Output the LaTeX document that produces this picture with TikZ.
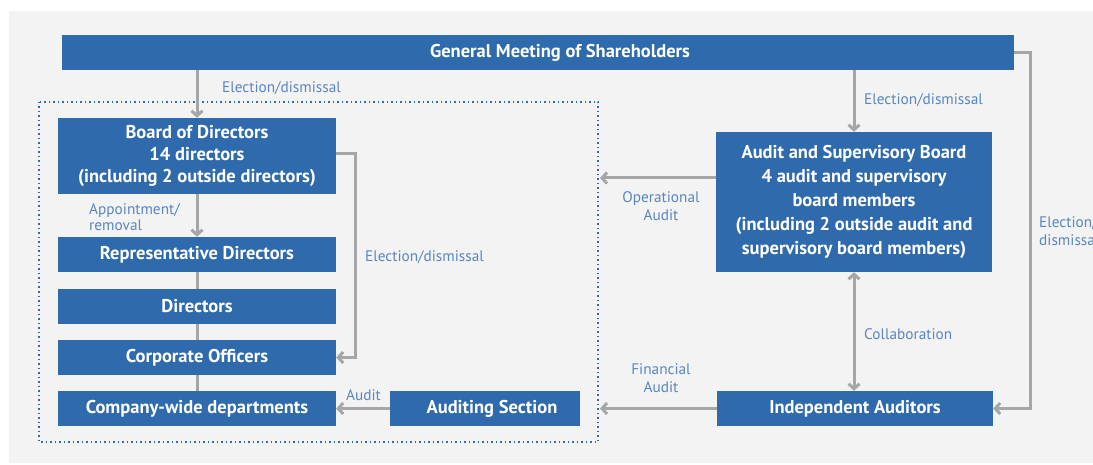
\documentclass[tikz,border=0pt]{standalone}
\usepackage{fontspec}
\setmainfont{PT Sans}
\newfontfamily\diafont{PT Sans}
\usetikzlibrary{arrows.meta,calc}
\definecolor{boxblue}{HTML}{2E6AAC}
\definecolor{lblblue}{HTML}{5A86C0}
\definecolor{arrgray}{HTML}{A6A6A6}
\definecolor{panel}{HTML}{F3F3F3}
\tikzset{
  orgbox/.style={fill=boxblue, text=white, inner sep=0pt, align=center,
    font=\diafont\bfseries\fontsize{18.5}{22}\selectfont},
  lbl/.style={text=lblblue, inner sep=0pt, font=\diafont\fontsize{15.3}{18}\selectfont},
  conn/.style={draw=arrgray, line width=3pt},
  arr/.style={conn, -{Straight Barb[length=5pt,width=11pt]}},
  darr/.style={conn, {Straight Barb[length=5pt,width=11pt]}-{Straight Barb[length=5pt,width=11pt]}},
  grp/.style={draw=boxblue, line width=1.5pt, dash pattern=on 1.5pt off 3pt}
}
\begin{document}
\begin{tikzpicture}[x=1pt,y=-1pt]
\clip (0,0) rectangle (1093,465);
\useasboundingbox (0,0) rectangle (1093,465);
\fill[white] (0,0) rectangle (1093,465);
\fill[panel] (9,11) rectangle (1093,463);
% group frame
\draw[grp] (39,102) rectangle (598,442);
% boxes
\node[orgbox, minimum width=952pt, minimum height=35pt] (gm) at (538,52.5) {};
\node[text=white, inner sep=0pt, font=\diafont\bfseries\fontsize{18.5}{22}\selectfont] (gmt) at (560,53) {General Meeting of Shareholders};
\node[orgbox, minimum width=278pt, minimum height=76pt] (bod) at (197,156) {Board of Directors\\14 directors\\(including 2 outside directors)};
\node[orgbox, minimum width=278pt, minimum height=35pt] (rep) at (197,254.5) {Representative Directors};
\node[orgbox, minimum width=278pt, minimum height=35pt] (dir) at (197,306.5) {Directors};
\node[orgbox, minimum width=278pt, minimum height=35pt] (corp) at (197,357.5) {Corporate Officers};
\node[orgbox, minimum width=278pt, minimum height=35pt] (comp) at (197,408.5) {Company-wide departments};
\node[orgbox, minimum width=190pt, minimum height=35pt] (aud) at (485,408.5) {\hspace*{14pt}Auditing Section};
\node[orgbox, minimum width=276pt, minimum height=140pt, font=\diafont\bfseries\fontsize{18.5}{24}\selectfont] (asb) at (854,202) {Audit and Supervisory Board\\4 audit and supervisory\\board members\\(including 2 outside audit and\\supervisory board members)};
\node[orgbox, minimum width=276pt, minimum height=35pt] (ia) at (855,408.5) {Independent Auditors};
% free ends
\coordinate (oa) at (600,178);
\coordinate (fa) at (600,408.5);
% connectors
\draw[arr] (bod.north |- gm.south) -- (bod.north);
\draw[arr] (bod.south) -- (rep.north);
\draw[conn] (rep.south) -- (dir.north);
\draw[conn] (dir.south) -- (corp.north);
\draw[conn] (corp.south) -- (comp.north);
\draw[arr] ($(bod.east)+(0,-2)$) -- ++(19,0) |- (corp.east);
\draw[arr] (aud.west) -- (comp.east);
\draw[arr] (oa -| asb.west) -- (oa);
\draw[arr] (ia.west) -- (fa);
\draw[arr] (asb.north |- gm.south) -- (asb.north);
\draw[darr] (asb.south) -- (asb.south |- ia.north);
\draw[arr] (gm.east) -- ++(16,0) |- (ia.east);
% labels
\node[lbl, anchor=west] (l1) at (222,88) {Election/dismissal};
\node[lbl, anchor=west, align=left, font=\diafont\fontsize{15.3}{16}\selectfont] (l2) at (89,217) {Appointment/\\removal};
\node[lbl, anchor=west] (l3) at (365,257) {Election/dismissal};
\node[lbl] (l4) at (363.5,395) {Audit};
\node[lbl, anchor=west] (l5) at (864,100) {Election/dismissal};
\node[lbl, align=center] (l6) at (661,206) {Operational\\Audit};
\node[lbl, anchor=west] (l7) at (864,334) {Collaboration};
\node[lbl, align=center] (l8) at (661,378.5) {Financial\\Audit};
\node[lbl, anchor=west, align=left] (l9) at (1039,231.5) {Election/\\dismissal};
\end{tikzpicture}
\end{document}
